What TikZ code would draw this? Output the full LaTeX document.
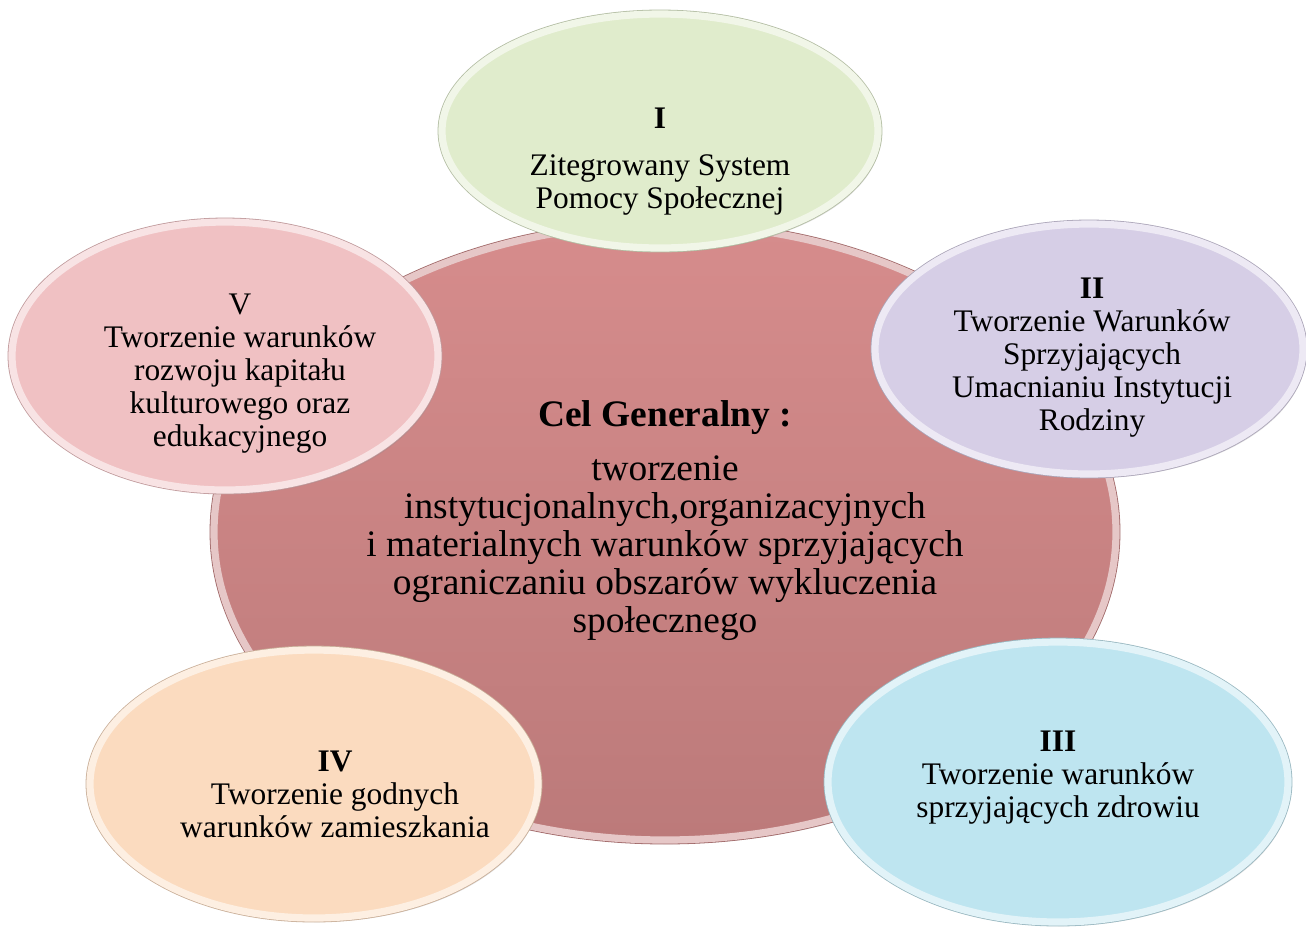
\documentclass[tikz,border=0pt]{standalone}
\usepackage{fontspec}
\setmainfont{Liberation Serif}
\usetikzlibrary{shapes.geometric,shadows}

\definecolor{celtop}{RGB}{214,140,140}
\definecolor{celbottom}{RGB}{188,122,122}
\definecolor{celrim}{RGB}{200,130,130}
\definecolor{greenI}{RGB}{224,236,204}
\definecolor{violetII}{RGB}{214,206,230}
\definecolor{blueIII}{RGB}{190,229,240}
\definecolor{peachIV}{RGB}{251,219,191}
\definecolor{pinkV}{RGB}{240,193,195}

\begin{document}
\begin{tikzpicture}[x=0.5pt, y=-0.5pt,
            bubble/.style = {shape=ellipse, inner sep=0pt,
                drop shadow={shadow xshift=1.5pt, shadow yshift=-2pt, opacity=0.25},
                preaction={draw=#1!80!black, line width=4.4pt},
                fill=#1,
                postaction={draw=#1!45!white, line width=3.6pt}},
            small/.style = {align=center, font=\fontsize{15.7}{16.5}\selectfont},
            big/.style = {align=center, font=\fontsize{18.7}{19}\selectfont}]

            \useasboundingbox (0,0) rectangle (1306,934);

            \node[bubble=celrim, top color=celtop, bottom color=celbottom,
                minimum width=451pt, minimum height=308pt] (cel) at (665,532) {};
            \node[bubble=greenI, minimum width=218pt, minimum height=117pt] (celI) at (660,131) {};
            \node[bubble=violetII, minimum width=214pt, minimum height=125pt] (celII) at (1089,349) {};
            \node[bubble=blueIII, minimum width=230pt, minimum height=140pt] (celIII) at (1058,782) {};
            \node[bubble=peachIV, minimum width=224pt, minimum height=134pt] (celIV) at (314,784) {};
            \node[bubble=pinkV, minimum width=213pt, minimum height=134pt] (celV) at (225,356) {};

            \node[big] (tcel) at (665,521) {\textbf{Cel Generalny :}\\[8pt]
                tworzenie\\
                instytucjonalnych,organizacyjnych\\
                i materialnych warunków sprzyjających\\
                ograniczaniu obszarów wykluczenia\\
                społecznego};
            \node[small] (tI) at (660,162) {\textbf{I}\\[7pt]
                Zitegrowany System\\
                Pomocy Społecznej};
            \node[small] (tII) at (1092,358) {\textbf{II}\\
                Tworzenie Warunków\\
                Sprzyjających\\
                Umacnianiu Instytucji\\
                Rodziny};
            \node[small] (tIII) at (1058,778) {\textbf{III}\\
                Tworzenie warunków\\
                sprzyjających zdrowiu};
            \node[small] (tIV) at (335,794) {\textbf{IV}\\
                Tworzenie godnych\\
                warunków zamieszkania};
            \node[small] (tV) at (240,374) {V\\
                Tworzenie warunków\\
                rozwoju kapitału\\
                kulturowego oraz\\
                edukacyjnego};

        \end{tikzpicture}
\end{document}
